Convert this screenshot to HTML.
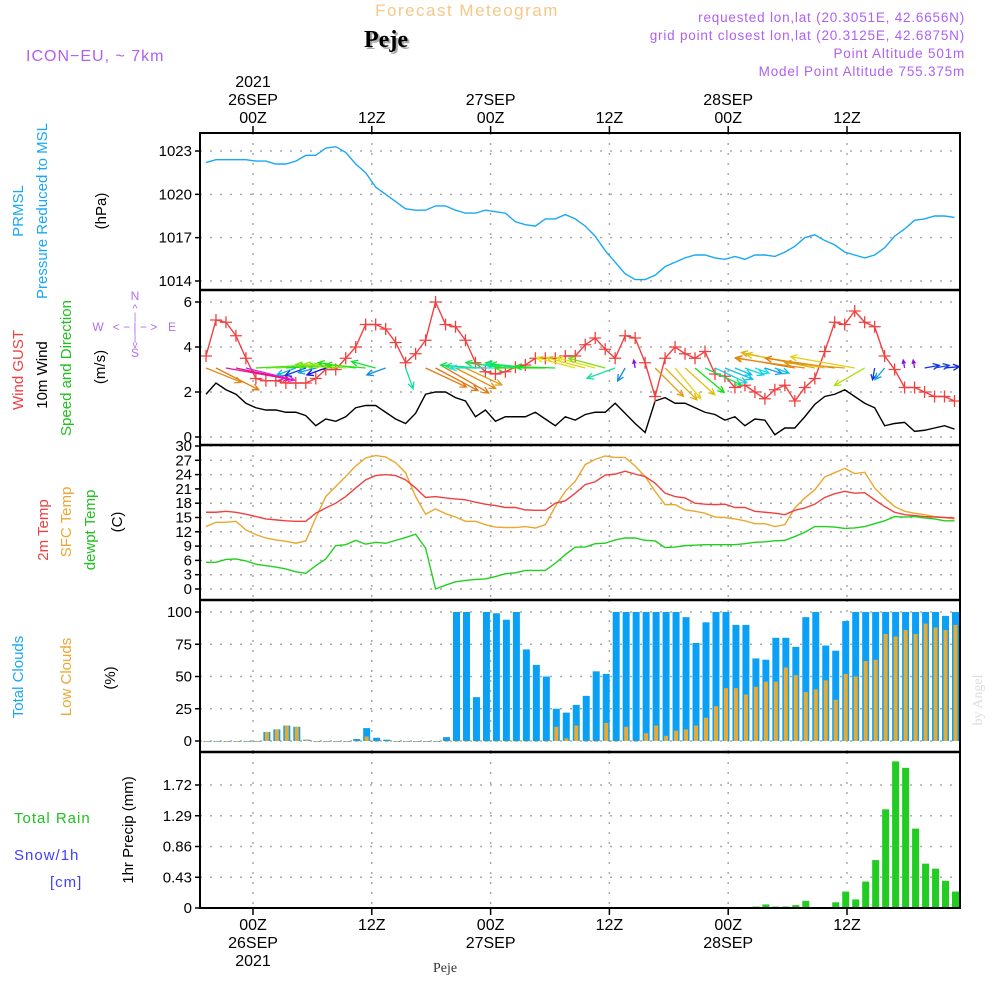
<!DOCTYPE html>
<html><head><meta charset="utf-8"><style>
html,body{margin:0;padding:0;background:#fff;}
svg{display:block;font-family:"Liberation Sans",sans-serif;}
</style></head><body>
<svg id="chart" width="1000" height="1000" viewBox="0 0 1000 1000" xmlns="http://www.w3.org/2000/svg">
<text x="467" y="16" text-anchor="middle" font-size="17" fill="#f5c88a" letter-spacing="1.5">Forecast Meteogram</text>
<text x="388" y="49" text-anchor="middle" font-size="24" font-weight="bold" fill="#aaa" font-family="Liberation Serif, serif">Peje</text>
<text x="386" y="47" text-anchor="middle" font-size="24" font-weight="bold" fill="#000" font-family="Liberation Serif, serif">Peje</text>
<text x="26" y="61" font-size="16" fill="#b060f0" letter-spacing="1">ICON−EU,  ~  7km</text>
<g font-size="13.5" fill="#b060f0" text-anchor="end" letter-spacing="0.8">
<text x="965" y="22">requested lon,lat (20.3051E, 42.6656N)</text>
<text x="965" y="40">grid point closest lon,lat (20.3125E, 42.6875N)</text>
<text x="965" y="58">Point Altitude 501m</text>
<text x="965" y="76">Model Point Altitude 755.375m</text>
</g>
<g id="grid"></g>
<g id="marks"></g>
<g id="frame"></g>
<g id="labels" font-size="14"></g>
<g fill="#b070f0" font-size="12" text-anchor="middle">
<text x="98" y="331">W</text><text x="172" y="331">E</text><text x="135" y="300">N</text><text x="135" y="357">S</text>
<text x="135" y="331" font-size="12">&lt; − | − &gt;</text>
<text x="135" y="312" font-size="11">^</text><text x="135" y="320" font-size="10">|</text>
<text x="135" y="341" font-size="10">|</text><text x="135" y="348" font-size="10">v</text>
</g>
<text x="445" y="972" text-anchor="middle" font-size="14" fill="#333" font-family="Liberation Serif, serif">Peje</text>
<text transform="translate(982,700) rotate(-90)" text-anchor="middle" font-size="14" fill="#ddd" font-family="Liberation Serif, serif">by Angel</text>
</svg>
<script>
// ---- data (hourly, 76 steps) ----
const pressure=[1022.2,1022.4,1022.4,1022.4,1022.4,1022.3,1022.3,1022.1,1022.1,1022.3,1022.7,1022.7,1023.2,1023.3,1022.9,1022.1,1021.5,1020.5,1020,1019.5,1019,1018.9,1018.9,1019.2,1019.2,1018.9,1018.7,1018.7,1018.9,1018.8,1018.7,1018.1,1017.9,1017.8,1018.3,1018.3,1018.6,1018.3,1017.8,
1017.1,1016.1,1015.3,1014.5,1014.1,1014.1,1014.4,1015,1015.3,1015.6,1015.8,1015.8,1015.6,1015.5,1015.7,1015.5,1015.8,1015.8,1015.7,1016,1016.4,1017,1017.2,1016.8,1016.5,1016,1015.8,1015.6,1015.8,1016.3,1017.1,1017.6,1018.2,1018.3,1018.5,1018.5,1018.4];
const gust=[3.6,5.2,5.1,4.5,3.5,2.6,2.5,2.5,2.4,2.4,2.4,2.6,3,3,3.5,4,5,5,4.8,4.2,3.3,3.7,4.3,6,5,4.9,4.3,3.3,2.9,2.8,2.9,3.1,3.2,3.5,3.5,3.5,3.6,3.6,4.1,
4.4,3.9,3.5,4.5,4.4,3.3,1.8,3.5,4,3.7,3.5,3.8,2.8,2.7,2.2,2.3,2,1.7,2.1,2.3,1.6,2.2,2.6,3.8,5.1,5,5.6,5.1,4.9,3.6,3,2.2,2.2,2,1.8,1.8,1.6];
const wind10=[1.9,2.4,2.1,1.9,1.5,1.3,1.2,1.2,1.1,1.1,0.95,0.5,0.8,0.7,0.9,1.3,1.4,1.4,1.1,0.8,0.6,1.05,1.9,2,2,1.75,1.6,0.9,1.2,0.7,0.9,0.9,0.9,1.1,0.8,0.5,0.9,0.75,1,
1.1,1.1,1.5,1.05,0.6,0.2,1.6,1.75,1.5,1.5,1.3,1.1,1,0.75,0.9,0.5,0.8,0.75,0.1,0.4,0.4,0.9,1.45,1.8,1.9,2.1,1.8,1.5,1.3,0.5,0.6,0.65,0.25,0.3,0.4,0.5,0.35];
const arrowDir=[22,27,10,12,14,-3,-3,-3,-3,160,160,165,160,185,185,188,185,195,160,null,70,null,25,28,30,27,25,185,183,180,188,190,185,185,180,182,null,195,195,
195,195,160,120,-100,null,45,45,50,42,40,25,25,22,22,20,20,18,20,null,190,188,192,190,188,185,190,150,100,130,null,-100,-100,-10,-10,-5,null];
const arrowLen=[38,48,60,55,50,50,50,45,45,20,22,18,20,40,42,38,40,25,20,0,22,0,45,48,50,45,40,35,40,45,40,30,40,45,50,40,0,40,40,
40,38,30,15,8,0,40,45,40,40,38,40,35,30,18,20,15,18,15,0,60,70,75,80,70,60,65,35,12,15,0,8,8,15,15,15,0];
const arrowHue=[35,30,320,330,300,110,100,90,120,195,230,200,240,90,80,120,110,130,205,0,160,0,30,28,30,35,40,130,150,180,135,120,170,140,110,125,0,60,55,
60,90,160,205,275,0,40,45,55,50,120,140,185,190,190,185,180,200,190,0,30,35,45,50,30,40,55,75,230,200,0,275,275,230,225,235,0];
const temp2m=[16.1,16.1,16.3,16.1,15.7,15.2,14.7,14.5,14.3,14.2,14.2,15.9,17,18,19.4,21.2,22.9,23.8,24,23.8,22.9,21.2,19.2,19.4,19.1,18.9,18.7,18.2,17.8,17.5,17.1,17.1,16.6,16.5,16.5,18,18.5,20.1,21.9,
22.5,23.9,24.1,24.7,24.1,23.6,22.2,20.1,19.4,19.1,18,17.8,17.7,17.8,17.1,17.1,16.3,16.1,15.9,15.6,16.5,17,17.8,19.2,20,20.5,20.1,20.2,18.7,17.3,16.1,15.6,15.4,15.2,15.1,15,14.9];
const tempSfc=[13.1,14,14,14.2,12.4,11.4,10.7,10.3,10,9.6,10.1,14.9,19.4,21.5,23.6,25.8,27.5,28,27.7,26.5,24.4,19.4,15.7,16.8,15.8,15.1,14.2,14.2,13.5,13,12.9,12.9,13.1,12.8,13.5,17.3,20.5,22.6,26.1,
27.2,27.9,27.6,27.6,25.8,23.6,20.5,17.7,17.7,16.6,16.3,15.9,15.1,15,14.7,14.3,13.7,13.7,13.1,13.5,17,19.1,20.8,23.5,24.4,25.3,24.2,24.5,21.2,19.1,17.3,16.3,15.9,15.6,15.2,15,14.7];
const dewpt=[5.6,5.6,6.2,6.3,5.9,5.2,4.9,4.6,4.2,3.6,3.3,4.9,6.3,9.1,9.3,10.2,9.4,9.8,9.6,10.2,10.8,11.5,8.6,0,0.8,1.5,1.8,2,2.1,2.6,3.2,3.4,3.9,3.9,3.9,5.4,7.2,8.8,8.8,
9.5,9.6,10.3,10.7,10.7,10.2,10.1,8.7,8.8,9.1,9.2,9.3,9.3,9.3,9.3,9.5,9.8,9.9,10.1,10.2,11,11.9,13.1,13.1,13,12.7,12.8,13.1,13.7,14.3,15.2,15.1,15.2,14.9,14.7,14.3,14.3];
const totalClouds=[0,0,0,0,0,0,7,9,12,11,1,0,0,0,0,1.5,10,2.5,1,0,0,0,0,0,3,100,100,34,100,99,94,100,71,59,50,25,22,28,
35,54,52,100,100,100,100,100,100,100,96,76,92,100,100,90,90,64,63,80,80,73,96,100,74,70,93,100,100,100,100,100,100,100,100,100,97,100];
const lowClouds=[0,0,0,0,0,0,7,9,12,11,1,0,0,0,0,0,3.5,0,0,0,0,0,0,0,0,0,0,0,0,0,0,0,0,0,0,11,2,12,
0,0,14,0,11,0,6,12,4,8,9,12,18,27,41,41,36,42,46,46,57,51,38,40,47,32,52,50,62,63,83,81,86,83,91,88,86,90];
const precip=[0,0,0,0,0,0,0,0,0,0,0,0,0,0,0,0,0,0,0,0,0,0,0,0,0,0,0,0,0,0,0,0,0,0,0,0,0,0,0,0,0,0,0,0,0,0,0,0,0,0,0,0,0,0,0,
0.02,0.05,0.02,0.02,0.04,0.1,0,0,0.08,0.23,0.12,0.37,0.67,1.38,2.05,1.96,1.11,0.62,0.55,0.38,0.23];
const pTicks=[1014,1017,1020,1023];
const wTicks=[0,2,4,6];
const tTicks=[0,3,6,9,12,15,18,21,24,27,30];
const cTicks=[0,25,50,75,100];
const rTicks=[0,0.43,0.86,1.29,1.72];
const timeHours=[0,12,24,36,48,60];
const topLabels=[["2021","26SEP","00Z"],["12Z"],["27SEP","00Z"],["12Z"],["28SEP","00Z"],["12Z"]];
const botLabels=[["00Z","26SEP","2021"],["12Z"],["00Z","27SEP"],["12Z"],["00Z","28SEP"],["12Z"]];

// ---- scales ----
const X0=200,X1=960;
const xi=i=>206+9.98*i;
const xh=h=>253+h*9.9;
const lin=(d0,d1,r0,r1)=>v=>r0+(v-d0)/(d1-d0)*(r1-r0);
const yP=lin(1014,1023,281,151);
const yW=lin(0,6,437,302);
const yT=lin(0,30,589,446);
const yC=lin(0,100,741,612);
const yR=lin(0,1.72,908,785);
const panels=[[133,290,pTicks,yP],[290,445,wTicks,yW],[445,600,tTicks,yT],[600,752,cTicks,yC],[752,908,rTicks,yR]];
const NS='http://www.w3.org/2000/svg';
function mk(tag,attrs,parent,txt){const e=document.createElementNS(NS,tag);for(const k in attrs)e.setAttribute(k,attrs[k]);if(txt!==undefined)e.textContent=txt;parent.appendChild(e);return e;}
const grid=document.getElementById('grid'),marks=document.getElementById('marks'),frame=document.getElementById('frame'),labels=document.getElementById('labels');

panels.forEach((p,pi)=>{
  const [top,bot,ticks,sc]=p;
  ticks.forEach(t=>{
    const y=sc(t);
    const gl=mk('line',{x1:X0,x2:X1,y1:y,y2:y,stroke:'#aaa','stroke-width':1.5,'stroke-dasharray':'2 8'},grid);
    
    
    mk('line',{x1:X0-5,x2:X0,y1:y,y2:y,stroke:'#000','stroke-width':1.5},frame);
    const tl=mk('text',{x:X0-8,y:y+5,'text-anchor':'end','font-size':15,fill:'#000'},labels,String(t));
    
    
  });
  timeHours.forEach(h=>{
    const vl=mk('line',{x1:xh(h),x2:xh(h),y1:top,y2:bot,stroke:'#aaa','stroke-width':1.5,'stroke-dasharray':'2 8'},grid);
    
    
  });
});

function line(arr,sc,color,name){
  const pts=arr.map((v,i)=>xi(i)+','+sc(v)).join(' ');
  const l=mk('polyline',{points:pts,fill:'none',stroke:color,'stroke-width':1.4},marks);
  
  
  return l;
}
line(pressure,yP,'#19a8f5','pressure-line');
line(wind10,yW,'#000','wind-10m-line');
line(gust,yW,'#f04040','gust-line');
gust.forEach((v,i)=>{
  const x=xi(i),y=yW(v);
  const m=mk('path',{d:`M${x-6},${y}H${x+6}M${x},${y-6}V${y+6}`,stroke:'#f04040','stroke-width':1.3},marks);
  
  
});
// wind arrows
arrowDir.forEach((a,i)=>{
  if(a===null||!arrowLen[i])return;
  const x=xi(i),y=368,r=a*Math.PI/180,L=arrowLen[i];
  const ex=x+L*Math.cos(r),ey=y+L*Math.sin(r);
  const h1=r+Math.PI-0.45,h2=r+Math.PI+0.45,hl=Math.min(7,L*0.5);
  const col=`hsl(${arrowHue[i]},85%,48%)`;
  const g=mk('path',{d:`M${x},${y}L${ex},${ey}M${ex+hl*Math.cos(h1)},${ey+hl*Math.sin(h1)}L${ex},${ey}L${ex+hl*Math.cos(h2)},${ey+hl*Math.sin(h2)}`,stroke:col,'stroke-width':1.3,fill:'none'},marks);
  
  
});
line(tempSfc,yT,'#eaa830','sfc-temp-line');
line(temp2m,yT,'#f04040','temp-2m-line');
line(dewpt,yT,'#20d020','dewpoint-line');
totalClouds.forEach((v,i)=>{
  const x=xi(i)+1;
  const b=mk('rect',{x:x-3.5,y:yC(v),width:7,height:Math.max(0.8,yC(0)-yC(v)),fill:'#0aa0f5'},marks);
  
  
  const lv=lowClouds[i];
  const o=mk('rect',{x:x-2,y:yC(lv),width:4,height:Math.max(0.8,yC(0)-yC(lv)),fill:'#e8aa30'},marks);
  
  
});
precip.forEach((v,i)=>{
  if(!v)return;
  const x=xi(i)+1;
  const b=mk('rect',{x:x-3.5,y:yR(v),width:7,height:yR(0)-yR(v),fill:'#22cc22'},marks);
  
  
});
mk('line',{x1:X0,x2:X1,y1:908,y2:908,stroke:'#000','stroke-width':1,'stroke-dasharray':'4 3'},marks);

// frame
mk('rect',{x:X0,y:133,width:X1-X0,height:775,fill:'none',stroke:'#000','stroke-width':2},frame);
[290,445,600,752].forEach(y=>{
  const s=mk('line',{x1:X0,x2:X1,y1:y,y2:y,stroke:'#000','stroke-width':2.5},frame);
  
  
});
timeHours.forEach((h,k)=>{
  const x=xh(h);
  mk('line',{x1:x,x2:x,y1:126,y2:133,stroke:'#000','stroke-width':1.5},frame);
  mk('line',{x1:x,x2:x,y1:908,y2:915,stroke:'#000','stroke-width':1.5},frame);
  const tl=topLabels[k];
  tl.forEach((s,j)=>{
    const t=mk('text',{x:x,y:123-(tl.length-1-j)*18,'text-anchor':'middle','font-size':16,fill:'#000'},labels,s);
    
    
  });
  botLabels[k].forEach((s,j)=>{
    const t=mk('text',{x:x,y:930+j*18,'text-anchor':'middle','font-size':16,fill:'#000'},labels,s);
    
    
  });
});
// axis titles
const vt=[["PRMSL",18,211,'#19a8f5'],["Pressure Reduced to MSL",42,211,'#19a8f5'],["(hPa)",101,211,'#000'],
["Wind GUST",18,370,'#f04040'],["10m Wind",42,375,'#000'],["Speed and Direction",66,368,'#20c020'],["(m/s)",100,367,'#000'],
["2m Temp",43,530,'#f04040'],["SFC Temp",66,522,'#eaa830'],["dewpt Temp",90,530,'#20c020'],["(C)",117,522,'#000'],
["Total Clouds",18,677,'#19a8f5'],["Low Clouds",66,677,'#eaa830'],["(%)",110,678,'#000'],["1hr Precip (mm)",128,830,'#000']];
vt.forEach(v=>{
  const t=mk('text',{transform:`translate(${v[1]+5},${v[2]}) rotate(-90)`,'text-anchor':'middle','font-size':15,fill:v[3]},labels,v[0]);
  
  
});
const ht=[["Total  Rain",14,823,'#20c020'],["Snow/1h",14,860,'#4040ff'],["[cm]",50,887,'#4040ff']];
ht.forEach(v=>{
  const t=mk('text',{x:v[1],y:v[2],'font-size':15,fill:v[3],'letter-spacing':1},labels,v[0]);
  
  
});
</script>
</body></html>
